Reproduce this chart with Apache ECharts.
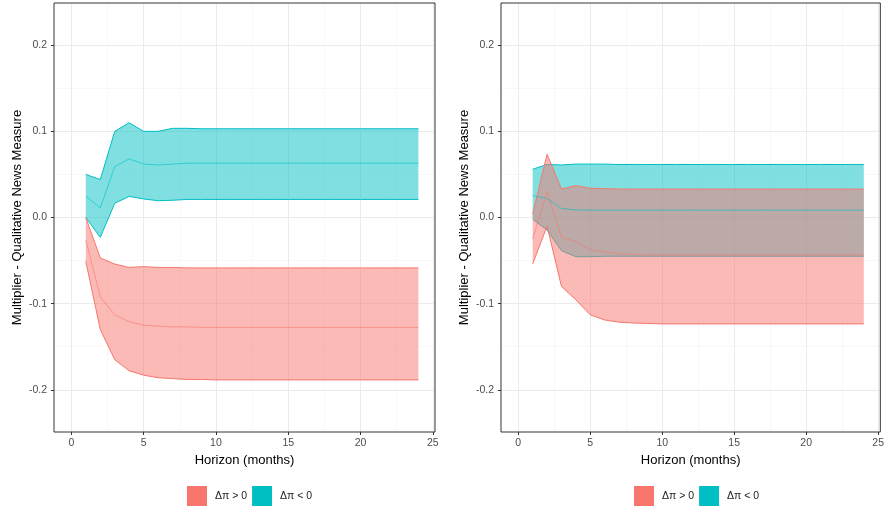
<!DOCTYPE html>
<html>
<head>
<meta charset="utf-8">
<script src="https://cdn.jsdelivr.net/npm/echarts@6/dist/echarts.min.js"></script>
<style>
html,body{margin:0;padding:0;background:#fff;}
#chart{width:887px;height:510px;}
</style>
</head>
<body>
<div id="chart"></div>
<script>
// ---- data ----
const horizon = [1,2,3,4,5,6,7,8,9,10,11,12,13,14,15,16,17,18,19,20,21,22,23,24];
const seriesNames = ['Δπ > 0', 'Δπ < 0'];
const xTickValues = [0,5,10,15,20,25];
const yTickValues = [-0.2,-0.1,0.0,0.1,0.2];

// Left panel
const tealUpperL = [0.050,0.044,0.100,0.110,0.100,0.100,0.1035,0.1035,0.103,0.103,0.103,0.103,0.103,0.103,0.103,0.103,0.103,0.103,0.103,0.103,0.103,0.103,0.103,0.103];
const tealMeanL  = [0.025,0.011,0.059,0.068,0.062,0.061,0.062,0.063,0.063,0.063,0.063,0.063,0.063,0.063,0.063,0.063,0.063,0.063,0.063,0.063,0.063,0.063,0.063,0.063];
const tealLowerL = [0.000,-0.023,0.0165,0.0245,0.0215,0.0195,0.020,0.021,0.021,0.021,0.021,0.021,0.021,0.021,0.021,0.021,0.021,0.021,0.021,0.021,0.021,0.021,0.021,0.021];
const redUpperL  = [0.000,-0.047,-0.054,-0.058,-0.057,-0.058,-0.058,-0.0585,-0.0585,-0.0585,-0.0585,-0.0585,-0.0585,-0.0585,-0.0585,-0.0585,-0.0585,-0.0585,-0.0585,-0.0585,-0.0585,-0.0585,-0.0585,-0.0585];
const redMeanL   = [-0.026,-0.092,-0.113,-0.121,-0.125,-0.126,-0.127,-0.127,-0.1275,-0.1275,-0.1275,-0.1275,-0.1275,-0.1275,-0.1275,-0.1275,-0.1275,-0.1275,-0.1275,-0.1275,-0.1275,-0.1275,-0.1275,-0.1275];
const redLowerL  = [-0.051,-0.130,-0.165,-0.178,-0.183,-0.186,-0.187,-0.188,-0.188,-0.1885,-0.1885,-0.1885,-0.1885,-0.1885,-0.1885,-0.1885,-0.1885,-0.1885,-0.1885,-0.1885,-0.1885,-0.1885,-0.1885,-0.1885];

// Right panel
const tealUpperR = [0.056,0.0615,0.061,0.062,0.062,0.062,0.0615,0.0615,0.0615,0.0615,0.0615,0.0615,0.0615,0.0615,0.0615,0.0615,0.0615,0.0615,0.0615,0.0615,0.0615,0.0615,0.0615,0.0615];
const tealMeanR  = [0.0255,0.022,0.0105,0.0088,0.0085,0.0085,0.0085,0.0085,0.0085,0.0085,0.0085,0.0085,0.0085,0.0085,0.0085,0.0085,0.0085,0.0085,0.0085,0.0085,0.0085,0.0085,0.0085,0.0085];
const tealLowerR = [-0.002,-0.0145,-0.0385,-0.0455,-0.0455,-0.045,-0.045,-0.045,-0.045,-0.045,-0.045,-0.045,-0.045,-0.045,-0.045,-0.045,-0.045,-0.045,-0.045,-0.045,-0.045,-0.045,-0.045,-0.045];
const redUpperR  = [0.004,0.0735,0.033,0.037,0.034,0.0335,0.033,0.033,0.033,0.033,0.033,0.033,0.033,0.033,0.033,0.033,0.033,0.033,0.033,0.033,0.033,0.033,0.033,0.033];
const redMeanR   = [-0.025,0.030,-0.023,-0.028,-0.0375,-0.040,-0.042,-0.043,-0.0435,-0.0435,-0.0435,-0.0435,-0.0435,-0.0435,-0.0435,-0.0435,-0.0435,-0.0435,-0.0435,-0.0435,-0.0435,-0.0435,-0.0435,-0.0435];
const redLowerR  = [-0.054,-0.010,-0.080,-0.0955,-0.113,-0.119,-0.1215,-0.1225,-0.123,-0.1235,-0.1235,-0.1235,-0.1235,-0.1235,-0.1235,-0.1235,-0.1235,-0.1235,-0.1235,-0.1235,-0.1235,-0.1235,-0.1235,-0.1235];

// ---- styling ----
const RED = '#F8766D', TEAL = '#00BFC4';
const RED_FILL = 'rgba(248,118,109,0.5)', TEAL_FILL = 'rgba(0,191,196,0.5)';
const FONT = 'Liberation Sans, Arial, Helvetica, sans-serif';

function band(name, color, fill, lower, upper, idx, z) {
  return {
    type: 'custom', name: name, xAxisIndex: idx, yAxisIndex: idx, z: z, silent: true,
    itemStyle: {color: color},
    data: horizon.map((h, i) => [h, lower[i], upper[i]]),
    encode: {x: 0, y: [1, 2]},
    renderItem: function (params, api) {
      if (params.dataIndex !== 0) return null;
      const top = horizon.map((h, i) => api.coord([h, upper[i]]));
      const bot = horizon.map((h, i) => api.coord([h, lower[i]])).reverse();
      return {type: 'polygon', shape: {points: top.concat(bot)}, style: {fill: fill, stroke: null}};
    }
  };
}
function line(name, color, vals, idx, z, opacity) {
  return {
    type: 'line', name: name, xAxisIndex: idx, yAxisIndex: idx, z: z, silent: true,
    showSymbol: false, symbol: 'none', animation: false,
    itemStyle: {color: color},
    lineStyle: {color: color, width: 1, opacity: opacity},
    data: horizon.map((h, i) => [h, vals[i]])
  };
}
function xAxis(idx) {
  return {
    type: 'value', gridIndex: idx, min: -1.2, max: 25.15, position: 'bottom',
    name: 'Horizon (months)', nameLocation: 'middle', nameGap: 18,
    nameTextStyle: {fontFamily: FONT, fontSize: 13, color: '#000'},
    axisLine: {show: false, onZero: false},
    axisTick: {show: true, inside: false, length: 3, lineStyle: {color: '#333'}, customValues: xTickValues},
    axisLabel: {fontFamily: FONT, fontSize: 10.5, color: '#4D4D4D', margin: 6, customValues: xTickValues,
      formatter: v => String(v)},
    splitLine: {show: true, lineStyle: {color: '#EBEBEB', width: 1}},
    minorTick: {show: false, splitNumber: 2},
    minorSplitLine: {show: true, lineStyle: {color: '#F4F4F4', width: 0.6}}
  };
}
function yAxis(idx) {
  return {
    type: 'value', gridIndex: idx, min: -0.249, max: 0.249, position: 'left',
    name: 'Multiplier - Qualitative News Measure', nameLocation: 'middle', nameGap: 30, nameRotate: 90,
    nameTextStyle: {fontFamily: FONT, fontSize: 13, color: '#000'},
    axisLine: {show: false, onZero: false},
    axisTick: {show: true, inside: false, length: 3, lineStyle: {color: '#333'}, customValues: yTickValues},
    axisLabel: {fontFamily: FONT, fontSize: 10.5, color: '#4D4D4D', margin: 7, customValues: yTickValues,
      formatter: v => v.toFixed(1)},
    splitLine: {show: true, lineStyle: {color: '#EBEBEB', width: 1}},
    minorTick: {show: false, splitNumber: 2},
    minorSplitLine: {show: true, lineStyle: {color: '#F4F4F4', width: 0.6}}
  };
}
function legend(left) {
  return {
    left: left, top: 481, orient: 'horizontal', icon: 'rect',
    itemWidth: 20, itemHeight: 20, itemGap: 5, selectedMode: false,
    textStyle: {fontFamily: FONT, fontSize: 10.5, color: '#1A1A1A', padding: [0, 0, 0, 3]},
    data: [
      {name: seriesNames[0], itemStyle: {color: RED}},
      {name: seriesNames[1], itemStyle: {color: TEAL}}
    ]
  };
}

const panels = [
  {tu: tealUpperL, tm: tealMeanL, tl: tealLowerL, ru: redUpperL, rm: redMeanL, rl: redLowerL},
  {tu: tealUpperR, tm: tealMeanR, tl: tealLowerR, ru: redUpperR, rm: redMeanR, rl: redLowerR}
];
const series = [];
panels.forEach((p, idx) => {
  series.push(band(seriesNames[1], TEAL, TEAL_FILL, p.tl, p.tu, idx, 2));
  series.push(line(seriesNames[1], TEAL, p.tu, idx, 3, 1));
  series.push(line(seriesNames[1], TEAL, p.tl, idx, 3, 1));
  series.push(band(seriesNames[0], RED, RED_FILL, p.rl, p.ru, idx, 4));
  series.push(line(seriesNames[0], RED, p.ru, idx, 5, 1));
  series.push(line(seriesNames[0], RED, p.rl, idx, 5, 1));
  series.push(line(seriesNames[1], TEAL, p.tm, idx, 6, 0.6));
  series.push(line(seriesNames[0], RED, p.rm, idx, 6, 0.6));
});

const chart = echarts.init(document.getElementById('chart'), null, {renderer: 'canvas'});
chart.setOption({
  animation: false,
  backgroundColor: '#fff',
  grid: [
    {left: 54, top: 3, width: 381, height: 429, show: true, borderColor: '#333', borderWidth: 1, backgroundColor: 'transparent', z: 10},
    {left: 501, top: 3, width: 381, height: 429, show: true, borderColor: '#333', borderWidth: 1, backgroundColor: 'transparent', z: 10}
  ],
  xAxis: [xAxis(0), xAxis(1)],
  yAxis: [yAxis(0), yAxis(1)],
  legend: [legend(182), legend(629)],
  series: series
});
</script>
</body>
</html>
